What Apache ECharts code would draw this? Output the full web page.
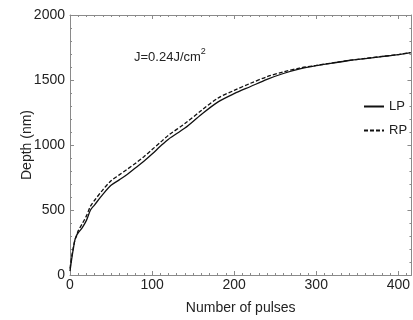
<!DOCTYPE html>
<html><head><meta charset="utf-8">
<script src="https://cdn.jsdelivr.net/npm/echarts@6/dist/echarts.min.js"></script>
<style>html,body{margin:0;padding:0;background:#fff}#c{width:413px;height:320px}</style>
</head><body><div id="c"></div>
<script>
const pulses = [0,2,4,6,8,10,15,20,25,30,40,50,60,70,80,90,100,110,120,140,160,180,200,220,240,260,280,300,320,340,360,380,400,415];
const depthLP = [30,120,200,270,305,325,365,420,500,540,620,690,732,775,825,875,930,990,1045,1130,1235,1330,1395,1450,1505,1550,1585,1610,1630,1650,1665,1680,1695,1710];
const depthRP = [50,140,210,270,300,340,395,455,530,575,655,725,770,815,860,910,965,1020,1075,1165,1265,1360,1420,1475,1525,1562,1592,1612,1632,1651,1666,1681,1696,1711];
const seriesNames = ['LP','RP'];
const xTicks = [0,100,200,300,400];
const yTicks = [0,500,1000,1500,2000];

const font = 'Liberation Sans, Arial, sans-serif';
const axisColor = '#8a8a8a';
const chart = echarts.init(document.getElementById('c'), null, {renderer:'canvas'});
const pair = a => pulses.map((x,i)=>[x,a[i]]);
function axisBase(){
  return {
    axisLine:{show:true,onZero:false,lineStyle:{color:axisColor,width:1}},
    axisTick:{show:true,inside:true,length:4,lineStyle:{color:axisColor}},
    splitLine:{show:false}
  };
}
chart.setOption({
  animation:false,
  backgroundColor:'#fff',
  grid:{left:70,right:1,top:15,bottom:40},
  legend:{
    orient:'vertical', left:363, top:100, padding:0, itemWidth:20, itemHeight:12, itemGap:11,
    itemStyle:{opacity:0},
    textStyle:{fontFamily:font,fontSize:13,color:'#222'},
    data:seriesNames
  },
  xAxis:[
    Object.assign(axisBase(), {type:'value',min:0,max:416,interval:100,position:'bottom',
      minorTick:{show:true,splitNumber:10,length:2,lineStyle:{color:axisColor}},
      axisLabel:{fontFamily:font,fontSize:14,color:'#222',margin:3,showMaxLabel:false,
        formatter:v=>xTicks.includes(v)?String(v):''},
      name:'Number of pulses',nameLocation:'middle',nameGap:26,
      nameTextStyle:{fontFamily:font,fontSize:14,color:'#222'}}),
    Object.assign(axisBase(), {type:'value',min:0,max:416,interval:100,position:'top',
      minorTick:{show:true,splitNumber:10,length:2,lineStyle:{color:axisColor}},
      axisLabel:{show:false}})
  ],
  yAxis:[
    Object.assign(axisBase(), {type:'value',min:0,max:2000,interval:500,position:'left',
      minorTick:{show:true,splitNumber:5,length:2,lineStyle:{color:axisColor}},
      axisLabel:{fontFamily:font,fontSize:14,color:'#222',margin:5,
        formatter:v=>yTicks.includes(v)?String(v):''},
      name:'Depth (nm)',nameLocation:'middle',nameGap:36,nameMoveOverlap:false,
      nameTextStyle:{fontFamily:font,fontSize:14,color:'#222'}}),
    Object.assign(axisBase(), {type:'value',min:0,max:2000,interval:500,position:'right',
      minorTick:{show:true,splitNumber:5,length:2,lineStyle:{color:axisColor}},
      axisLabel:{show:false}})
  ],
  series:[
    {name:seriesNames[0],type:'line',data:pair(depthLP),symbol:'none',smooth:0.3,
      lineStyle:{color:'#111',width:1.3,type:'solid'},itemStyle:{color:'#111'}},
    {name:seriesNames[1],type:'line',data:pair(depthRP),symbol:'none',smooth:0.3,
      lineStyle:{color:'#111',width:1.3,type:[4,2]},itemStyle:{color:'#111'}}
  ],
  graphic:[{
    type:'text', left:134, top:47,
    style:{
      text:'{a|J=0.24J/cm}{s|2}',
      rich:{
        a:{fontFamily:font,fontSize:13,fill:'#222',verticalAlign:'bottom'},
        s:{fontFamily:font,fontSize:9,fill:'#222',verticalAlign:'top',padding:[0,0,8,0]}
      }
    }
  }]
});
</script>
</body></html>
